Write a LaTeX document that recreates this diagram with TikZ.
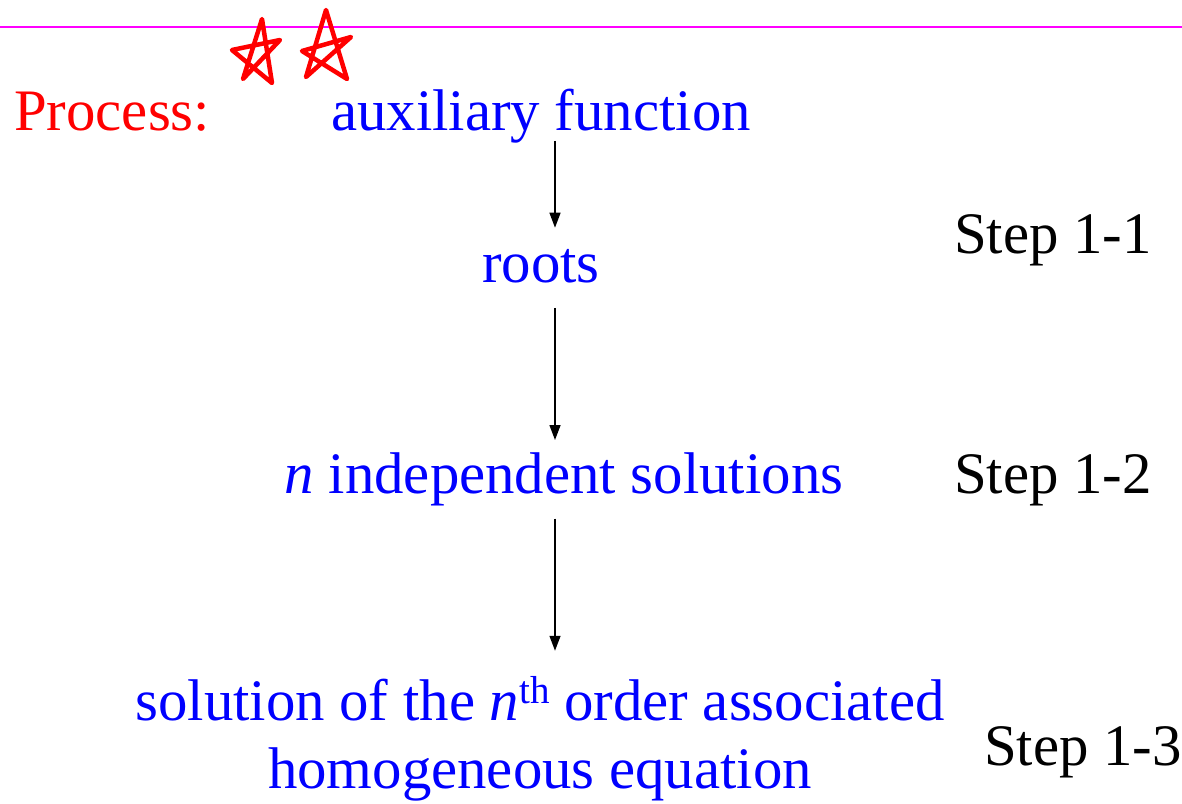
\documentclass[tikz,border=0pt]{standalone}
\usepackage{fontspec}
\setmainfont{Liberation Serif}
\usetikzlibrary{arrows.meta}
\definecolor{pblue}{RGB}{0,0,255}
\definecolor{pred}{RGB}{255,0,0}
\definecolor{pmag}{RGB}{255,0,255}
\begin{document}
\begin{tikzpicture}[x=1pt,y=-1pt,
  txt/.style={inner sep=0pt, anchor=base, font=\fontsize{58.8}{68}\selectfont},
  bluetxt/.style={txt, text=pblue},
  steptxt/.style={txt, anchor=base west, text=black},
  arr/.style={draw=black, line width=1.4pt, -{Triangle[width=11pt,length=15pt]}},
  starpen/.style={draw=pred, line width=4.5pt, line join=round, line cap=round}]
\useasboundingbox (0,0) rectangle (1182,803);
% rule
\draw[pmag, line width=2pt] (0,27) -- (1182,27);
% hand drawn stars
\draw[starpen] (243,79) -- (262,19) -- (272,83) -- (232,50) -- (280,40) -- cycle;
\draw[starpen] (306,77) -- (326,10) -- (347,79) -- (302,51) -- (351,37) -- cycle;
% texts
\node[txt, anchor=base west, text=pred] (proc) at (14,130) {Process:};
\node[bluetxt] (aux) at (541,130) {auxiliary function};
\node[bluetxt] (roots) at (541,282) {roots};
\node[bluetxt] (indep) at (564,493) {\textit{n} independent solutions};
\node[bluetxt] (sol1) at (540,720) {solution of the \textit{n}\raisebox{17pt}{\fontsize{39}{39}\selectfont th} order associated};
\node[bluetxt] (sol2) at (540,788) {homogeneous equation};
\node[steptxt] (s1) at (954,253) {Step 1-1};
\node[steptxt] (s2) at (954,493) {Step 1-2};
\node[steptxt] (s3) at (984,765) {Step 1-3};
% arrows
\coordinate (ax) at (555,0);
\draw[arr, shorten <=-2pt, shorten >=21pt] (aux.south -| ax) -- (roots.north -| ax);
\draw[arr, shorten <=25pt, shorten >=12pt] (roots.south -| ax) -- (indep.north -| ax);
\draw[arr, shorten <=13pt, shorten >=25pt] (indep.south -| ax) -- (sol1.north -| ax);
\end{tikzpicture}
\end{document}
